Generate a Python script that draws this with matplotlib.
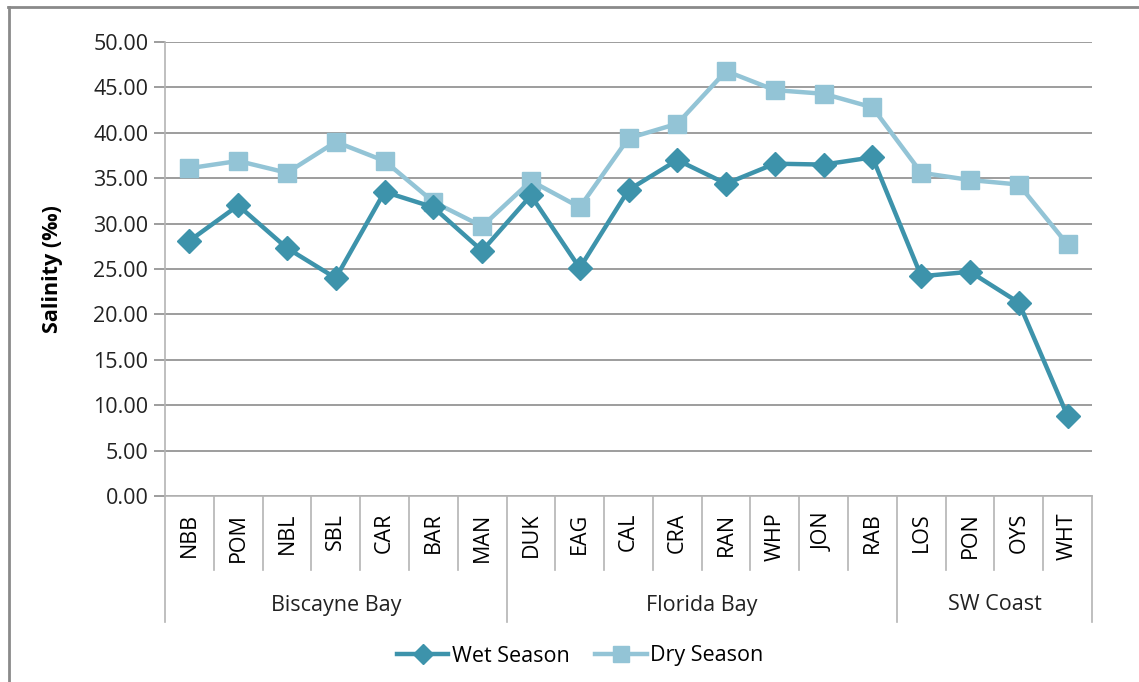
import matplotlib
matplotlib.use("Agg")
import matplotlib.pyplot as plt
from matplotlib.lines import Line2D
from matplotlib.transforms import blended_transform_factory

plt.rcParams['font.family'] = ['Open Sans', 'DejaVu Sans']

# data
sites = ['NBB', 'POM', 'NBL', 'SBL', 'CAR', 'BAR', 'MAN',
         'DUK', 'EAG', 'CAL', 'CRA', 'RAN', 'WHP', 'JON', 'RAB',
         'LOS', 'PON', 'OYS', 'WHT']
groups = ['Biscayne Bay', 'Florida Bay', 'SW Coast']
group_sizes = [7, 8, 4]
wet = [28.1, 32.0, 27.3, 24.0, 33.5, 31.8, 27.0,
       33.1, 25.1, 33.7, 37.0, 34.4, 36.6, 36.5, 37.3,
       24.2, 24.7, 21.3, 8.8]
dry = [36.1, 36.9, 35.6, 39.0, 36.9, 32.4, 29.7,
       34.7, 31.8, 39.4, 41.0, 46.8, 44.7, 44.3, 42.8,
       35.6, 34.8, 34.3, 27.7]

wet_col = '#3d93ab'
dry_col = '#93c4d6'
grid_col = '#8c8c8c'
sep_col = '#b4b4b4'
fs = 15.5

fig = plt.figure(figsize=(11.39, 6.82), dpi=100)
ax = fig.add_axes([165/1139, 1-496/682, (1092-165)/1139, (496-42)/682])

x = list(range(len(sites)))
ax.plot(x, wet, color=wet_col, lw=3.2, marker='D', ms=12.5, zorder=3)
ax.plot(x, dry, color=dry_col, lw=3.2, marker='s', ms=13.5, zorder=2)

ax.set_xlim(-0.5, len(sites) - 0.5)
ax.set_ylim(0, 50)
ax.set_yticks(range(0, 51, 5))
ax.set_yticklabels(['%.2f' % v for v in range(0, 51, 5)], fontsize=fs, color='#222222')
ax.yaxis.grid(True, color=grid_col, lw=1.2)
ax.set_axisbelow(True)
ax.tick_params(axis='y', length=8, width=1.2, color=grid_col, pad=4)
for s in ['top', 'right']:
    ax.spines[s].set_visible(False)
ax.spines['left'].set_color(sep_col)
ax.spines['left'].set_linewidth(1.2)
ax.spines['bottom'].set_color(sep_col)
ax.spines['bottom'].set_linewidth(1.2)

# category labels
ax.set_xticks(x)
ax.set_xticklabels(sites, rotation=90, fontsize=fs, va='top', ha='center')
ax.tick_params(axis='x', length=0, pad=12)

trans = blended_transform_factory(ax.transData, ax.transAxes)
h = 496 - 42
short = -(570 - 496) / h
long_ = -(622 - 496) / h

bounds = [0]
for n in group_sizes:
    bounds.append(bounds[-1] + n)
for i in range(len(sites) + 1):
    y1 = long_ if i in bounds else short
    ax.plot([i - 0.5, i - 0.5], [0, y1], color=sep_col, lw=1.2,
            transform=trans, clip_on=False)
for g, a, b in zip(groups, bounds[:-1], bounds[1:]):
    ax.text((a + b - 1) / 2, -(605 - 496) / h, g, transform=trans,
            ha='center', va='center', fontsize=fs, color='#222222')

ax.set_ylabel('Salinity (‰)', fontsize=fs, fontweight='bold', labelpad=22)

handles = [Line2D([], [], color=wet_col, lw=3.2, marker='D', ms=10),
           Line2D([], [], color=dry_col, lw=3.2, marker='s', ms=11)]
fig.legend(handles, ['Wet Season', 'Dry Season'], loc='center',
           bbox_to_anchor=(580/1139, 1-656/682), ncol=2, frameon=False,
           fontsize=fs, handlelength=2.4, handletextpad=0.15, columnspacing=1.2)

# outer frame (top and left edges visible)
fig.add_artist(Line2D([8/1139, 1], [1-7/682, 1-7/682], color='#8a8a8a', lw=2))
fig.add_artist(Line2D([9/1139, 9/1139], [0, 1-7/682], color='#8a8a8a', lw=2))

fig.savefig('out.png', dpi=100)
